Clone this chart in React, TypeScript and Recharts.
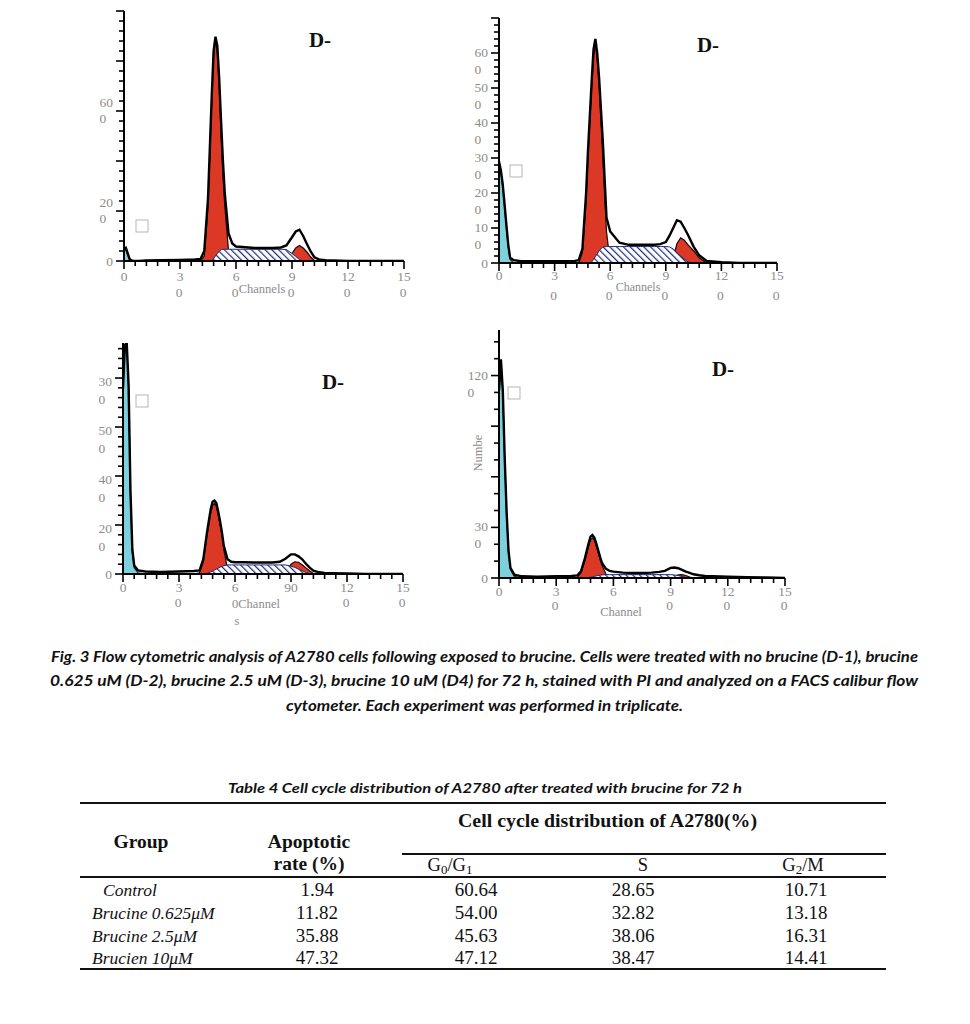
import React from 'react';
import { ComposedChart, Area, Line, XAxis, YAxis } from 'recharts';

const n = null;

// DNA channel grid (0–150)
const channels = [0, 1, 2, 3, 4, 5, 6, 8, 12, 20, 30, 38, 41, 43, 45, 47, 48, 49, 50, 51, 52, 53, 54, 56, 58, 60, 65, 70, 75, 80, 84, 87, 90, 92, 94, 96, 98, 100, 102, 105, 108, 112, 120, 130, 140, 150];

// D-1
const total1 = [45, 52, 30, 8, 2, 0, 0, 0, 2, 3, 4, 6, 8, 40, 250, 660, 840, 897, 860, 730, 560, 400, 270, 110, 70, 58, 55, 52, 52, 52, 54, 62, 95, 118, 125, 100, 68, 38, 15, 5, 3, 2, 0, 0, 0, 0];
const red1 = [n, n, n, n, n, n, n, n, n, n, n, n, 0, 20, 220, 640, 820, 890, 830, 700, 500, 340, 220, 40, 0, n, n, n, n, n, n, 0, 30, 52, 62, 52, 36, 16, 2, 0, n, n, n, n, n, n];
const sPhase1 = [n, n, n, n, n, n, n, n, n, n, n, n, n, n, n, 0, 10, 20, 30, 38, 45, 47, 47, 47, 47, 47, 47, 47, 47, 47, 47, 46, 30, 18, 6, 0, n, n, n, n, n, n, n, n, n, n];
const apo1 = [45, 50, 25, 6, 0, n, n, n, n, n, n, n, n, n, n, n, n, n, n, n, n, n, n, n, n, n, n, n, n, n, n, n, n, n, n, n, n, n, n, n, n, n, n, n, n, n];

// D-2
const total2 = [290, 265, 225, 168, 108, 52, 15, 8, 5, 5, 5, 5, 6, 8, 40, 200, 320, 420, 520, 610, 640, 600, 530, 350, 130, 90, 58, 52, 52, 52, 52, 54, 60, 78, 100, 122, 118, 100, 80, 47, 22, 6, 2, 0, 0, 0];
const red2 = [n, n, n, n, n, n, n, n, n, n, n, n, n, 0, 30, 180, 300, 400, 500, 590, 632, 580, 510, 300, 90, 0, n, n, n, n, n, n, n, 0, 15, 55, 72, 65, 52, 35, 15, 0, n, n, n, n];
const sPhase2 = [n, n, n, n, n, n, n, n, n, n, n, n, n, n, n, n, n, 0, 3, 10, 18, 26, 35, 46, 47, 47, 47, 47, 47, 47, 47, 47, 47, 46, 40, 30, 20, 11, 3, 0, n, n, n, n, n, n];
const apo2 = [285, 260, 218, 160, 100, 45, 10, 0, n, n, n, n, n, n, n, n, n, n, n, n, n, n, n, n, n, n, n, n, n, n, n, n, n, n, n, n, n, n, n, n, n, n, n, n, n, n];

// D-3
const total3 = [760, 935, 943, 770, 340, 100, 35, 15, 10, 8, 10, 12, 15, 60, 170, 265, 295, 300, 290, 255, 215, 170, 115, 60, 50, 48, 48, 47, 47, 47, 50, 62, 80, 80, 72, 60, 42, 26, 14, 7, 4, 3, 2, 0, 0, 0];
const red3 = [n, n, n, n, n, n, n, n, n, n, n, 0, 5, 50, 160, 250, 280, 289, 275, 240, 200, 160, 100, 20, 0, n, n, n, n, n, n, 0, 40, 50, 48, 38, 25, 12, 2, 0, n, n, n, n, n, n];
const sPhase3 = [n, n, n, n, n, n, n, n, n, n, n, n, n, 0, 2, 8, 12, 16, 20, 24, 28, 31, 34, 37, 37, 37, 37, 37, 37, 37, 37, 37, 32, 27, 20, 13, 6, 0, n, n, n, n, n, n, n, n];
const apo3 = [760, 930, 940, 760, 330, 90, 25, 5, 0, n, n, n, n, n, n, n, n, n, n, n, n, n, n, n, n, n, n, n, n, n, n, n, n, n, n, n, n, n, n, n, n, n, n, n, n, n];

// D-4
const total4 = [1110, 1296, 1110, 710, 390, 160, 60, 20, 10, 8, 10, 12, 15, 40, 115, 205, 245, 255, 240, 205, 165, 125, 90, 55, 42, 38, 32, 30, 30, 32, 36, 42, 60, 62, 58, 48, 38, 30, 22, 16, 12, 10, 8, 5, 3, 0];
const red4 = [n, n, n, n, n, n, n, n, n, n, n, 0, 3, 30, 100, 190, 225, 238, 225, 190, 150, 110, 75, 25, 0, n, n, n, n, n, n, n, 0, 8, 18, 20, 15, 6, 0, n, n, n, n, n, n, n];
const sPhase4 = [n, n, n, n, n, n, n, n, n, n, n, n, n, n, 0, 3, 5, 7, 10, 12, 15, 17, 18, 20, 20, 20, 20, 20, 20, 20, 20, 20, 20, 18, 14, 9, 4, 0, n, n, n, n, n, n, n, n];
const apo4 = [1100, 1290, 1100, 700, 380, 150, 50, 10, 0, n, n, n, n, n, n, n, n, n, n, n, n, n, n, n, n, n, n, n, n, n, n, n, n, n, n, n, n, n, n, n, n, n, n, n, n, n];

// tick labels (as printed, split over two lines)
const xLabelsA: Record<number, string[]> = { 0: ['0'], 30: ['3', '0'], 60: ['6', '0'], 90: ['9', '0'], 120: ['12', '0'], 150: ['15', '0'] };
const xLabelsC: Record<number, string[]> = { 0: ['0'], 30: ['3', '0'], 60: ['6'], 90: ['90'], 120: ['12', '0'], 150: ['15', '0'] };
const xLabelsD: Record<number, string[]> = { 0: ['0'], 30: ['3', '0'], 60: ['6'], 90: ['9', '0'], 120: ['12', '0'], 150: ['15', '0'] };
const yLabels1: Record<number, string[]> = { 0: ['0'], 200: ['20', '0'], 600: ['60', '0'] };
const yLabels2: Record<number, string[]> = { 0: ['0'], 100: ['10', '0'], 200: ['20', '0'], 300: ['30', '0'], 400: ['40', '0'], 500: ['50', '0'], 600: ['60', '0'] };
const yLabels3: Record<number, string[]> = { 0: ['0'], 200: ['20', '0'], 400: ['40', '0'], 600: ['50', '0'], 800: ['30', '0'] };
const yLabels4: Record<number, string[]> = { 0: ['0'], 300: ['30', '0'], 1200: ['120', '0'] };

// table
const groups = ['Control', 'Brucine 0.625μM', 'Brucine 2.5μM', 'Brucien 10μM'];
const apoptoticRate = [1.94, 11.82, 35.88, 47.32];
const g0g1 = [60.64, 54.0, 45.63, 47.12];
const sPct = [28.65, 32.82, 38.06, 38.47];
const g2m = [10.71, 13.18, 16.31, 14.41];

const captionLines = [
  'Fig. 3 Flow cytometric analysis of A2780 cells following exposed to brucine. Cells were treated with no brucine (D-1), brucine',
  '0.625 uM (D-2), brucine 2.5 uM (D-3), brucine 10 uM (D4) for 72 h, stained with PI and analyzed on a FACS calibur flow',
  'cytometer. Each experiment was performed in triplicate.',
];
const tableTitle = 'Table 4 Cell cycle distribution of A2780 after treated with brucine for 72 h';

const SERIF = '"Liberation Serif", "DejaVu Serif", serif';
const CAP = 'Lato, "Open Sans", sans-serif';
const GREY = '#8c8c8c';
const RED = '#dc3826';
const CYAN = '#7dd0dc';
const NAVY = '#1d2b78';
const TICK_FS = 13.5;

type PanelCfg = {
  left: number; top: number; w: number; h: number; yMax: number; yStep: number; yMajor: number;
  xLabels: Record<number, string[]>; yLabels: Record<number, string[]>;
  total: (number | null)[]; red: (number | null)[]; s: (number | null)[]; apo: (number | null)[];
  xLab1: number; xLab2: number; yLab1: number; yLab2: number;
};

const panels: PanelCfg[] = [
  { left: 124, top: 11, w: 280, h: 250, yMax: 1000, yStep: 40, yMajor: 200, xLabels: xLabelsA, yLabels: yLabels1, total: total1, red: red1, s: sPhase1, apo: apo1, xLab1: 20, xLab2: 36, yLab1: -4, yLab2: 12 },
  { left: 499, top: 18, w: 278, h: 245, yMax: 700, yStep: 20, yMajor: 100, xLabels: xLabelsA, yLabels: yLabels2, total: total2, red: red2, s: sPhase2, apo: apo2, xLab1: 17, xLab2: 37, yLab1: 4, yLab2: 21 },
  { left: 123, top: 343, w: 280, h: 231, yMax: 943, yStep: 40, yMajor: 200, xLabels: xLabelsC, yLabels: yLabels3, total: total3, red: red3, s: sPhase3, apo: apo3, xLab1: 18, xLab2: 33, yLab1: 8, yLab2: 26 },
  { left: 499, top: 330, w: 286, h: 248, yMax: 1470, yStep: 100, yMajor: 300, xLabels: xLabelsD, yLabels: yLabels4, total: total4, red: red4, s: sPhase4, apo: apo4, xLab1: 18, xLab2: 32, yLab1: 4, yLab2: 21 },
];

const XTick = (props: any) => {
  const { x, y, payload, labels, l1, l2 } = props;
  const v = payload.value;
  const major = v % 30 === 0;
  const lab = labels[v];
  return (
    <g>
      <line x1={x} y1={y} x2={x} y2={y + (major ? 8 : 5)} stroke="#000" strokeWidth={1.6} />
      {lab && lab[0] && (
        <text x={x} y={y + l1} textAnchor="middle" fontSize={TICK_FS} fill={GREY} fontFamily={SERIF}>{lab[0]}</text>
      )}
      {lab && lab[1] && (
        <text x={x - 1} y={y + l2} textAnchor="middle" fontSize={TICK_FS} fill={GREY} fontFamily={SERIF}>{lab[1]}</text>
      )}
    </g>
  );
};

const YTick = (props: any) => {
  const { x, y, payload, labels, major, o1, o2 } = props;
  const v = payload.value;
  const isMajor = v % major === 0;
  const lab = labels[v];
  const startX = lab ? x - 11 - lab[0].length * 6.8 : 0;
  const single = lab && !lab[1];
  return (
    <g>
      <line x1={x} y1={y} x2={x - (isMajor ? 8 : 5)} y2={y} stroke="#000" strokeWidth={1.6} />
      {lab && (
        <text x={x - 11} y={y + (single ? 5 : o1)} textAnchor="end" fontSize={TICK_FS} fill={GREY} fontFamily={SERIF}>{lab[0]}</text>
      )}
      {lab && lab[1] && (
        <text x={startX} y={y + o2} textAnchor="start" fontSize={TICK_FS} fill={GREY} fontFamily={SERIF}>{lab[1]}</text>
      )}
    </g>
  );
};

const AX = 1; // axis band thickness used by Recharts layout

function Histogram({ p }: { p: PanelCfg }) {
  const data = channels.map((c, i) => ({ ch: c, total: p.total[i], red: p.red[i], s: p.s[i], apo: p.apo[i] }));
  const m = { top: 10, right: 20, bottom: 50, left: 60 };
  const xTicks: number[] = [];
  for (let v = 0; v <= 150; v += 6) xTicks.push(v);
  const yTicks: number[] = [];
  for (let v = 0; v <= p.yMax; v += p.yStep) yTicks.push(v);
  return (
    <div style={{ position: 'absolute', left: p.left - m.left - AX, top: p.top - m.top }}>
      <ComposedChart width={p.w + m.left + m.right + AX} height={p.h + m.top + m.bottom + AX} data={data} margin={m}>
        <XAxis
          type="number" dataKey="ch" domain={[0, 150]} ticks={xTicks} interval={0}
          tick={<XTick labels={p.xLabels} l1={p.xLab1} l2={p.xLab2} />}
          tickLine={false} tickSize={0} tickMargin={0} height={AX} allowDataOverflow
          axisLine={{ stroke: '#000', strokeWidth: 2 }}
        />
        <YAxis
          type="number" domain={[0, p.yMax]} ticks={yTicks} interval={0}
          tick={<YTick labels={p.yLabels} major={p.yMajor} o1={p.yLab1} o2={p.yLab2} />}
          tickLine={false} tickSize={0} tickMargin={0} width={AX} allowDataOverflow
          axisLine={{ stroke: '#000', strokeWidth: 2 }}
        />
        <Area type="linear" dataKey="red" fill={RED} fillOpacity={1} stroke="#1a0500" strokeWidth={1.2} isAnimationActive={false} dot={false} activeDot={false} />
        <Area type="linear" dataKey="s" fill="url(#hatchS)" fillOpacity={1} stroke={NAVY} strokeWidth={1} isAnimationActive={false} dot={false} activeDot={false} />
        <Area type="linear" dataKey="apo" fill={CYAN} fillOpacity={1} stroke="#0b2a2e" strokeWidth={1.2} isAnimationActive={false} dot={false} activeDot={false} />
        <Line type="linear" dataKey="total" stroke="#000" strokeWidth={2.4} dot={false} activeDot={false} isAnimationActive={false} />
      </ComposedChart>
    </div>
  );
}

const titles = [
  { x: 320, y: 47 },
  { x: 708, y: 52 },
  { x: 333, y: 389 },
  { x: 723, y: 376 },
];
const boxes = [
  { x: 136, y: 220 },
  { x: 510, y: 165 },
  { x: 136, y: 395 },
  { x: 508, y: 387 },
];

const colX = [317, 476, 633, 806];
const rowY = [896, 919, 942, 964];

export default function App() {
  return (
    <div style={{ position: 'absolute', left: 0, top: 0, width: 970, height: 1024, background: '#fff', overflow: 'hidden' }}>
      <svg width={0} height={0} style={{ position: 'absolute' }}>
        <defs>
          <pattern id="hatchS" patternUnits="userSpaceOnUse" width={4.8} height={4.8} patternTransform="rotate(-45)">
            <rect width={4.8} height={4.8} fill="#fff" />
            <rect x={0} y={0} width={1.2} height={4.8} fill={NAVY} />
          </pattern>
        </defs>
      </svg>
      {panels.map((p, i) => (
        <Histogram key={i} p={p} />
      ))}
      <svg width={970} height={1024} style={{ position: 'absolute', left: 0, top: 0, pointerEvents: 'none' }}>
        {titles.map((t, i) => (
          <text key={i} x={t.x} y={t.y} textAnchor="middle" fontFamily={SERIF} fontWeight="bold" fontSize={21} fill="#111">D-</text>
        ))}
        {boxes.map((b, i) => (
          <rect key={i} x={b.x} y={b.y} width={12} height={12} fill="none" stroke="#b5b5b5" strokeWidth={1} />
        ))}
        <text x={262} y={293} textAnchor="middle" fontFamily={SERIF} fontSize={12.5} fill={GREY}>Channels</text>
        <text x={638} y={291} textAnchor="middle" fontFamily={SERIF} fontSize={12} fill={GREY}>Channels</text>
        <text x={256} y={608} textAnchor="middle" fontFamily={SERIF} fontSize={12.5} fill={GREY}>0Channel</text>
        <text x={237} y={625} textAnchor="middle" fontFamily={SERIF} fontSize={12.5} fill={GREY}>s</text>
        <text x={621} y={616} textAnchor="middle" fontFamily={SERIF} fontSize={12.5} fill={GREY}>Channel</text>
        <text x={482} y={453} textAnchor="middle" fontFamily={SERIF} fontSize={12.5} fill={GREY} transform="rotate(-90 482 453)">Numbe</text>

        {/* caption */}
        <text x={51} y={662} fontFamily={CAP} fontStyle="italic" fontWeight="bold" fontSize={14.5} fill="#111" textLength={867} lengthAdjust="spacingAndGlyphs">{captionLines[0]}</text>
        <text x={50} y={686} fontFamily={CAP} fontStyle="italic" fontWeight="bold" fontSize={14.5} fill="#111" textLength={868} lengthAdjust="spacingAndGlyphs">{captionLines[1]}</text>
        <text x={286} y={711} fontFamily={CAP} fontStyle="italic" fontWeight="bold" fontSize={14.5} fill="#111" textLength={397} lengthAdjust="spacingAndGlyphs">{captionLines[2]}</text>

        {/* table */}
        <text x={228} y={793} fontFamily={CAP} fontStyle="italic" fontWeight="bold" fontSize={13.5} fill="#111" textLength={514} lengthAdjust="spacingAndGlyphs">{tableTitle}</text>
        <line x1={80} y1={803} x2={886} y2={803} stroke="#111" strokeWidth={2} />
        <line x1={402} y1={854} x2={886} y2={854} stroke="#111" strokeWidth={2} />
        <line x1={80} y1={877} x2={886} y2={877} stroke="#111" strokeWidth={2} />
        <line x1={80} y1={969} x2={886} y2={969} stroke="#111" strokeWidth={2} />

        <text x={458} y={827} fontFamily={SERIF} fontWeight="bold" fontSize={19} fill="#111" textLength={299} lengthAdjust="spacingAndGlyphs">Cell cycle distribution of A2780(%)</text>
        <text x={141} y={848} textAnchor="middle" fontFamily={SERIF} fontWeight="bold" fontSize={19.5} fill="#111">Group</text>
        <text x={309} y={848} textAnchor="middle" fontFamily={SERIF} fontWeight="bold" fontSize={19.5} fill="#111">Apoptotic</text>
        <text x={309} y={870} textAnchor="middle" fontFamily={SERIF} fontWeight="bold" fontSize={19.5} fill="#111">rate (%)</text>
        <text x={450} y={871} textAnchor="middle" fontFamily={SERIF} fontSize={18.5} fill="#111">
          G<tspan dy={3} fontSize={13}>0</tspan><tspan dy={-3}>/G</tspan><tspan dy={3} fontSize={13}>1</tspan>
        </text>
        <text x={643} y={871} textAnchor="middle" fontFamily={SERIF} fontSize={18.5} fill="#111">S</text>
        <text x={803} y={871} textAnchor="middle" fontFamily={SERIF} fontSize={18.5} fill="#111">
          G<tspan dy={3} fontSize={13}>2</tspan><tspan dy={-3}>/M</tspan>
        </text>

        {groups.map((g, i) => (
          <text key={'g' + i} x={i === 0 ? 103 : 92} y={rowY[i]} fontFamily={SERIF} fontStyle="italic" fontSize={17.5} fill="#111">{g}</text>
        ))}
        {[apoptoticRate, g0g1, sPct, g2m].map((col, j) =>
          col.map((v, i) => (
            <text key={j + '-' + i} x={colX[j]} y={rowY[i]} textAnchor="middle" fontFamily={SERIF} fontSize={19} fill="#111">{v.toFixed(2)}</text>
          ))
        )}
      </svg>
    </div>
  );
}
